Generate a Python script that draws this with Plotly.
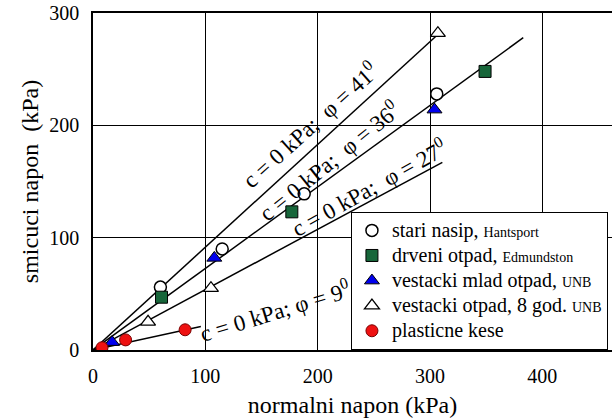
import plotly.graph_objects as go

# Data
stari_x = [60, 115, 188, 306]
stari_y = [56, 90, 139, 228]

drveni_x = [61, 177, 349]
drveni_y = [47, 123, 248]

mlad_x = [17, 108, 304]
mlad_y = [7, 82, 214]

god8_x = [49, 105, 307]
god8_y = [25, 55, 282]

kese_x = [8, 29, 82]
kese_y = [2, 9, 18]

# Fitted envelope lines (start and end points)
line_names = ["phi41", "phi36", "phi27", "phi9"]
line_x = [[0, 306], [0, 383], [0, 311], [0, 96]]
line_y = [[0, 280], [0, 278], [0, 167], [0, 21]]

# Line labels
label_text = ["c = 0 kPa;  φ = 41<sup>0</sup>", "c = 0 kPa;  φ = 36<sup>0</sup>",
              "c = 0 kPa;  φ = 27<sup>0</sup>", "c = 0 kPa; φ = 9<sup>0</sup>"]
label_x = [193, 210, 245, 162]
label_y = [201, 169, 145, 35]
label_angle = [-42, -39, -29, -17]

legend_main = ["stari nasip, ", "drveni otpad, ", "vestacki mlad otpad, ",
               "vestacki otpad, 8 god. ", "plasticne kese"]
legend_small = ["Hantsport", "Edmundston", "UNB", "UNB", ""]

xticks = [0, 100, 200, 300, 400]
yticks = [0, 100, 200, 300]

FONT = "Liberation Serif"


def lname(i):
    s = "<span style='font-size:20px'>" + legend_main[i] + "</span>"
    if legend_small[i]:
        s += "<span style='font-size:14px'>" + legend_small[i] + "</span>"
    return s


fig = go.Figure()

for lx, ly in zip(line_x, line_y):
    fig.add_trace(go.Scatter(x=lx, y=ly, mode="lines", line=dict(color="black", width=1.5),
                             showlegend=False, hoverinfo="skip"))

fig.add_trace(go.Scatter(x=stari_x, y=stari_y, mode="markers", name=lname(0),
                         marker=dict(symbol="circle", size=12, color="white",
                                     line=dict(color="black", width=1.5))))
fig.add_trace(go.Scatter(x=drveni_x, y=drveni_y, mode="markers", name=lname(1),
                         marker=dict(symbol="square", size=12, color="#17663a",
                                     line=dict(color="black", width=1))))
fig.add_trace(go.Scatter(x=mlad_x, y=mlad_y, mode="markers", name=lname(2),
                         marker=dict(symbol="triangle-up", size=13, color="#0000ee",
                                     line=dict(color="black", width=1))))
fig.add_trace(go.Scatter(x=god8_x, y=god8_y, mode="markers", name=lname(3),
                         marker=dict(symbol="triangle-up", size=13, color="white",
                                     line=dict(color="black", width=1.3))))
fig.add_trace(go.Scatter(x=kese_x, y=kese_y, mode="markers", name=lname(4),
                         marker=dict(symbol="circle", size=12, color="#ee1111",
                                     line=dict(color="#7a0000", width=1))))

for t, x, y, a in zip(label_text, label_x, label_y, label_angle):
    fig.add_annotation(x=x, y=y, text=t, textangle=a, showarrow=False,
                       font=dict(family=FONT, size=23, color="black"))

fig.update_layout(
    width=612, height=418,
    margin=dict(l=93, r=0, t=13, b=68),
    paper_bgcolor="white", plot_bgcolor="white",
    font=dict(family=FONT, size=20, color="black"),
    xaxis=dict(range=[0, 462], tickvals=xticks, showgrid=True, gridcolor="black", gridwidth=1,
               zeroline=False, showline=True, linecolor="black", linewidth=1.5, mirror=True,
               ticks="", tickfont=dict(family=FONT, size=20), ticklabeloverflow="allow",
               automargin=False, ticklabelstandoff=7,
               title=dict(text="normalni napon (kPa)", font=dict(family=FONT, size=24), standoff=13)),
    yaxis=dict(range=[0, 300], tickvals=yticks, showgrid=True, gridcolor="black", gridwidth=1,
               zeroline=False, showline=True, linecolor="black", linewidth=1.5,
               ticks="", tickfont=dict(family=FONT, size=20), ticklabeloverflow="allow",
               automargin=False, ticklabelstandoff=8,
               title=dict(text="smicuci napon  (kPa)", font=dict(family=FONT, size=24), standoff=4)),
    legend=dict(x=0.497, y=0.41, xanchor="left", yanchor="top", bgcolor="white",
                bordercolor="black", borderwidth=1, font=dict(family=FONT, size=17),
                tracegroupgap=0, itemwidth=30),
)

# remove the default 8px page margin so the figure sits at the window's top-left corner
fig.write_html("out.html", config={"displayModeBar": False},
               post_script="document.body.style.margin='0';")
